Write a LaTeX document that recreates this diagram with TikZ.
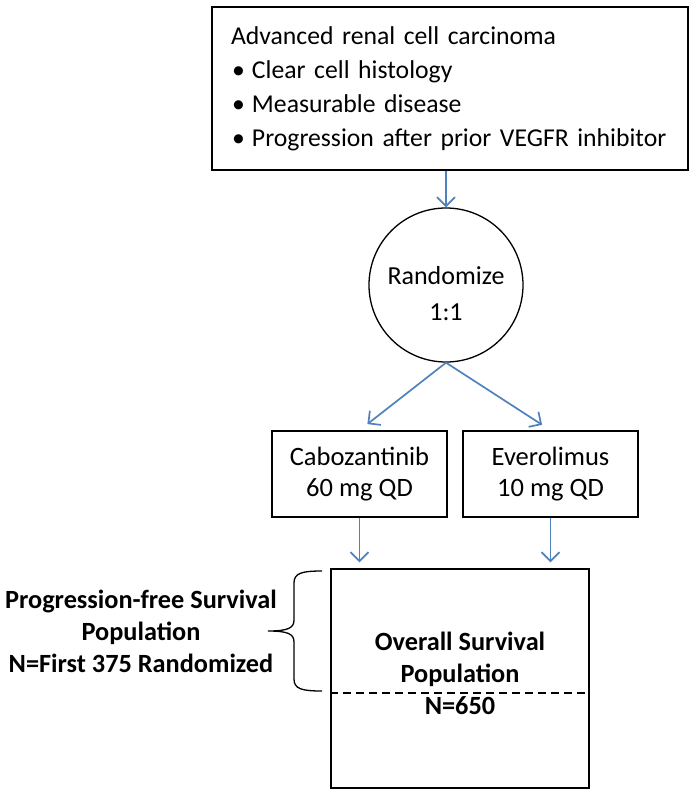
\documentclass[tikz,border=0pt]{standalone}
\usepackage{fontspec}
\setmainfont{Carlito}
\usepackage{tikz}
\usetikzlibrary{arrows.meta}
\usetikzlibrary{calc}

\definecolor{arrowblue}{HTML}{4F81BD}
\tikzset{
  box/.style={draw, line width=1.5pt, align=center, inner sep=0pt},
  flow/.style={draw=arrowblue, line width=1.7pt, -{Straight Barb[length=9pt,width=18pt]}},
}

\begin{document}
\begin{tikzpicture}[x=1pt,y=-1pt]
\useasboundingbox (0,0) rectangle (691,798);
%\draw[help lines,step=50pt] (0,0) grid (691,798);
\node[box, minimum width=476pt, minimum height=163pt, text width=438pt, align=left,
  font=\fontsize{25.7}{34}\selectfont] (crit) at (450,88.5)
  {Advanced renal cell carcinoma\\
   \hspace*{1pt}\makebox[20pt][l]{\textbullet}Clear cell histology\\
   \hspace*{1pt}\makebox[20pt][l]{\textbullet}Measurable disease\\
   \hspace*{1pt}\makebox[20pt][l]{\textbullet}Progression after prior VEGFR inhibitor};
\node[circle, draw, line width=1.3pt, minimum size=154pt, inner sep=0pt] (rand) at (446,285) {};
\node[align=center, font=\fontsize{26}{36}\selectfont] (randtxt) at (446,293.5) {Randomize\\1:1};
\node[box, minimum width=175pt, minimum height=86pt, font=\fontsize{26.5}{31}\selectfont] (cabo) at (359.5,474) {Cabozantinib\\60 mg QD};
\node[box, minimum width=175pt, minimum height=86pt, font=\fontsize{26.5}{31}\selectfont] (evero) at (550.5,474) {Everolimus\\10 mg QD};
\node[box, minimum width=258pt, minimum height=219pt] (pop) at (460,678.5) {};
\node[align=center, font=\bfseries\fontsize{26.3}{32}\selectfont] (poptxt) at (460,673) {Overall Survival\\Population\\N=650};
\node[align=center, font=\bfseries\fontsize{26.3}{32}\selectfont] (pfs) at (141,631) {Progression-free Survival\\Population\\N=First 375 Randomized};

\draw[flow] (crit.south -| rand.north) -- (rand.north);
\draw[flow, shorten >=10pt] (rand.south) -- (cabo.north);
\draw[flow, shorten >=10pt] (rand.south) -- (evero.north);
\draw[flow, shorten >=6pt] (cabo.south) -- (cabo.south |- pop.north);
\draw[flow, shorten >=6pt] (evero.south) -- (evero.south |- pop.north);

\draw[dashed, dash pattern=on 8pt off 5pt, line width=1.2pt] (pop.west |- 0,693) -- (pop.east |- 0,693);
% brace
\draw[line width=1.3pt] (322,571) .. controls (302,571) and (294,573) .. (294,583) -- (294,620)
  .. controls (294,628) and (288,631) .. (268,631)
  .. controls (288,631) and (294,634) .. (294,642) -- (294,679)
  .. controls (294,689) and (302,691) .. (322,691);
\end{tikzpicture}
\end{document}
